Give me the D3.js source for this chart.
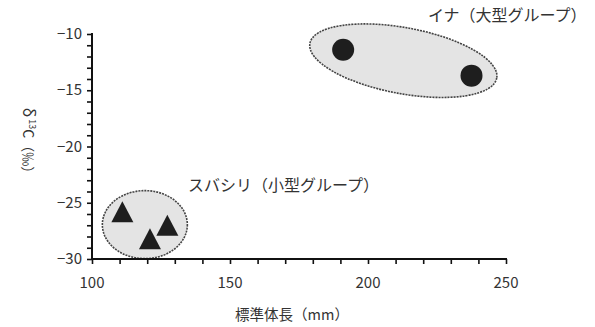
<!DOCTYPE html>
<html>
<head>
<meta charset="utf-8">
<script src="https://cdn.jsdelivr.net/npm/d3@7"></script>
<style>
	body { margin: 0; background: #fff; }
	svg { display: block; font-family: "Noto Sans CJK JP", "Noto Sans", sans-serif; }
	text { fill: #333; }
</style>
</head>
<body>
<div id="vizHolder"></div>
<script>
// Data: body length (mm) and delta 13C (permil)
var	largeLength = [191, 237.5],
		largeDelta = [-11.4, -13.7],
		smallLength = [111, 121, 127.3],
		smallDelta = [-26.1, -28.5, -27.3],
		xTicks = [100, 150, 200, 250],
		yTicks = [-10, -15, -20, -25, -30],
		groupNames = ['イナ（大型グループ）', 'スバシリ（小型グループ）'],
		labelLength = [221.7, 134.8],
		labelDelta = [-8.3, -23.4];

var width = 595,
		height = 327,
		plotLeft = 92,
		plotRight = 506,
		plotTop = 34,
		plotBottom = 259;

var svg = d3.select('#vizHolder')
			.append('svg')
			.attr('width', width)
			.attr('height', height);

var xScale = d3.scaleLinear().domain([100, 250]).range([plotLeft, plotRight]);
var yScale = d3.scaleLinear().domain([-30, -10]).range([plotBottom, plotTop]);

// group ellipses go underneath the markers
function ellipse(cx, cy, rx, ry, angle) {
	svg.append('ellipse')
		.attr('transform', 'translate(' + cx + ',' + cy + ') rotate(' + angle + ')')
		.attr('rx', rx)
		.attr('ry', ry)
		.attr('fill', '#e4e4e4')
		.attr('stroke', '#444')
		.attr('stroke-width', 1.6)
		.attr('stroke-dasharray', '2,1');
}
var bigCx = (xScale(d3.min(largeLength)) + xScale(d3.max(largeLength))) / 2 - 4,
		bigCy = (yScale(d3.max(largeDelta)) + yScale(d3.min(largeDelta))) / 2 - 2;
ellipse(bigCx, bigCy, 95, 33, 10.5);
var smallCx = (xScale(d3.min(smallLength)) + xScale(d3.max(smallLength))) / 2,
		smallCy = (yScale(d3.max(smallDelta)) + yScale(d3.min(smallDelta))) / 2 - 4;
ellipse(smallCx, smallCy, 42.5, 34, 0);

// axes
var xAxisMinor = d3.axisBottom(xScale).ticks(15).tickSize(5).tickFormat('');
var yAxisMinor = d3.axisLeft(yScale).ticks(20).tickSize(5).tickFormat('');

var gx = svg.append('g')
	.attr('transform', 'translate(0,' + plotBottom + ')')
	.call(xAxisMinor);
var gy = svg.append('g')
	.attr('transform', 'translate(' + plotLeft + ',0)')
	.call(yAxisMinor);
[gx, gy].forEach(function(g) {
	g.select('.domain').remove();
	g.selectAll('line').attr('stroke', '#111').attr('stroke-width', 1.6);
});
svg.append('path')
	.attr('d', 'M' + plotLeft + ',' + (plotTop - 1) + 'V' + plotBottom + 'H' + (plotRight + 1))
	.attr('fill', 'none')
	.attr('stroke', '#111')
	.attr('stroke-width', 2);

svg.selectAll('.xlab')
	.data(xTicks)
	.enter()
	.append('text')
	.attr('x', function(d) { return xScale(d); })
	.attr('y', plotBottom + 29)
	.attr('text-anchor', 'middle')
	.attr('font-size', 15)
	.text(function(d) { return d; });

svg.selectAll('.ylab')
	.data(yTicks)
	.enter()
	.append('text')
	.attr('x', plotLeft - 10)
	.attr('y', function(d) { return yScale(d) + 5; })
	.attr('text-anchor', 'end')
	.attr('font-size', 15)
	.text(function(d) { return d.toString().replace('-', '\u2212'); });

// axis titles
svg.append('text')
	.attr('x', 292)
	.attr('y', 320)
	.attr('text-anchor', 'middle')
	.attr('font-size', 14.5)
	.text('標準体長（mm）');

var yt = svg.append('text')
	.attr('transform', 'translate(23,144) rotate(90)')
	.attr('text-anchor', 'middle')
	.attr('font-size', 14);
yt.append('tspan').attr('font-size', 16).text('δ');
yt.append('tspan').attr('font-size', 9).attr('dy', -6).attr('dx', 2).text('13');
yt.append('tspan').attr('dy', 6).text('C（‰）');

// markers
svg.selectAll('.big')
	.data(largeLength)
	.enter()
	.append('circle')
	.attr('cx', function(d) { return xScale(d); })
	.attr('cy', function(d, i) { return yScale(largeDelta[i]); })
	.attr('r', 11)
	.attr('fill', '#1e1e1e');

// triangle a little taller than equilateral, centred on its centroid
var triPath = 'M0,-14L11,7L-11,7Z';
svg.selectAll('.small')
	.data(smallLength)
	.enter()
	.append('path')
	.attr('d', triPath)
	.attr('transform', function(d, i) {
		return 'translate(' + xScale(d) + ',' + yScale(smallDelta[i]) + ')';
	})
	.attr('fill', '#1e1e1e');

// group labels
svg.selectAll('.glab')
	.data(groupNames)
	.enter()
	.append('text')
	.attr('x', function(d, i) { return xScale(labelLength[i]); })
	.attr('y', function(d, i) { return yScale(labelDelta[i]) + 6; })
	.attr('font-size', 16)
	.text(function(d) { return d; });
</script>
</body>
</html>
